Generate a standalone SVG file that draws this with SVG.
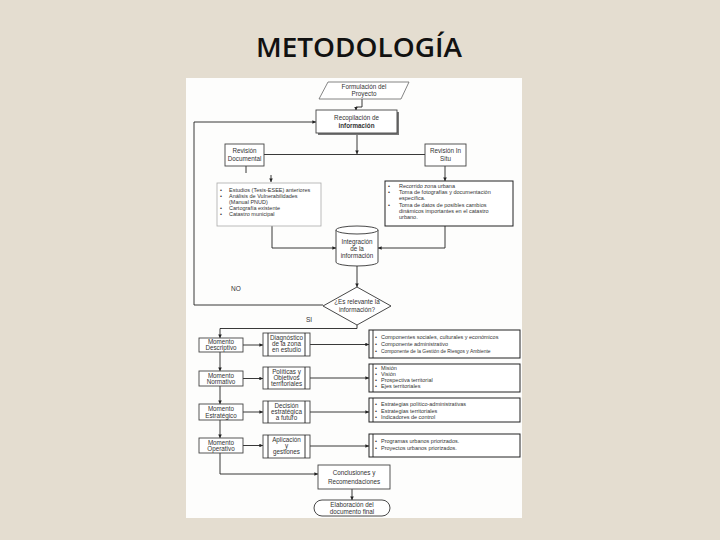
<svg xmlns="http://www.w3.org/2000/svg" width="720" height="540" viewBox="0 0 720 540">
<defs>
<marker id="ah" viewBox="0 0 6 6" refX="6" refY="3" markerWidth="4" markerHeight="4" orient="auto"><path d="M0,0 L6,3 L0,6 Z" fill="#222"/></marker>
<style>
.t{font-family:"Liberation Sans",Arial,sans-serif;fill:#333;}
.c{text-anchor:middle;font-size:6.3px;}
.l{font-size:5.5px;}
.box{fill:#fff;stroke:#444;stroke-width:0.9;}
.sh{fill:#777;}
.lg{fill:#fff;stroke:#aaa;stroke-width:0.8;}
.ln{fill:none;stroke:#222;stroke-width:0.9;}
.ar{fill:none;stroke:#222;stroke-width:0.9;marker-end:url(#ah);}
</style>
</defs>
<rect width="720" height="540" fill="#e4ddd0"/>
<text x="359" y="57" font-family="'Open Sans','Liberation Sans',sans-serif" font-weight="600" font-size="27" text-anchor="middle" textLength="206" lengthAdjust="spacingAndGlyphs" fill="#111">METODOLOGÍA</text>
<rect x="186" y="78" width="336" height="440" fill="#fdfdfc"/>

<g id="connectors">
<path class="ar" d="M362,99 V107 H356 V110.5"/>
<path class="ar" d="M357,133 V154"/>
<path class="ln" d="M264,154.5 H425"/>
<path class="ln" d="M246,166 V173" stroke="#999"/>
<path class="ar" d="M271,175 V182"/>
<path class="ar" d="M445,166 V181"/>
<path class="ar" d="M272,226 V248 H336"/>
<path class="ar" d="M445,226 V248 H378"/>
<path class="ar" d="M357,265 V287"/>
<path class="ar" d="M323,305 H194 V122 H316"/>
<path class="ar" d="M357,325 V328.5 H220 V338"/>
<path class="ar" d="M220,352 V371"/>
<path class="ar" d="M220,386 V404"/>
<path class="ar" d="M220,420 V438"/>
<path class="ar" d="M243,345 H263"/>
<path class="ar" d="M243,378.5 H263"/>
<path class="ar" d="M243,412 H263"/>
<path class="ar" d="M243,445.5 H263"/>
<path class="ar" d="M310,344.5 H369"/>
<path class="ar" d="M310,378 H369"/>
<path class="ar" d="M310,412 H369"/>
<path class="ar" d="M310,446 H369"/>
<path class="ar" d="M220,453 V474 H318"/>
<path class="ar" d="M352,489 V500"/>
</g>

<g id="formulacion">
<path d="M328,82 H409 L401,99 H319 Z" fill="#fff" stroke="#666" stroke-width="0.8"/>
<text class="t c" x="364" y="89">Formulación del</text>
<text class="t c" x="364" y="96">Proyecto</text>
</g>

<g id="recopilacion">
<rect x="318" y="112" width="81" height="23" class="sh"/>
<rect x="316" y="110" width="81" height="23" class="box"/>
<text class="t c" x="356.5" y="120">Recopilación de</text>
<text class="t c" x="356.5" y="128" font-weight="bold">información</text>
</g>

<g id="rev-documental">
<rect x="225" y="144" width="39" height="22" class="box"/>
<text class="t c" x="244.5" y="153">Revisión</text>
<text class="t c" x="244.5" y="161">Documental</text>
</g>

<g id="rev-insitu">
<rect x="425" y="144" width="41" height="22" class="box"/>
<text class="t c" x="445.5" y="153">Revisión In</text>
<text class="t c" x="445.5" y="161">Situ</text>
</g>

<g id="lista-documental">
<rect x="217" y="183" width="104" height="43" class="lg"/>
<g class="t l">
<text x="220" y="192">•</text><text x="229" y="192">Estudios (Tesis-ESEE) anteriores</text>
<text x="220" y="198">•</text><text x="229" y="198">Análisis de Vulnerabilidades</text>
<text x="229" y="204">(Manual PNUD)</text>
<text x="220" y="210">•</text><text x="229" y="210">Cartografía existente</text>
<text x="220" y="216">•</text><text x="229" y="216">Catastro municipal</text>
</g>
</g>

<g id="lista-insitu">
<rect x="385" y="181" width="128" height="45" fill="#fff" stroke="#222" stroke-width="1"/>
<g class="t l">
<text x="388" y="188">•</text><text x="399" y="188">Recorrido zona urbana</text>
<text x="388" y="194">•</text><text x="399" y="194">Toma de fotografías y documentación</text>
<text x="399" y="200">específica.</text>
<text x="388" y="207">•</text><text x="399" y="207">Toma de datos de posibles cambios</text>
<text x="399" y="213">dinámicos importantes en el catastro</text>
<text x="399" y="219">urbano.</text>
</g>
</g>

<g id="integracion">
<path d="M336,230 V262 A21,4 0 0 0 378,262 V230" fill="#fff" stroke="#333" stroke-width="0.9"/>
<ellipse cx="357" cy="230" rx="21" ry="4" fill="#fff" stroke="#333" stroke-width="0.9"/>
<text class="t c" x="357" y="244">Integración</text>
<text class="t c" x="357" y="251">de la</text>
<text class="t c" x="357" y="258">información</text>
</g>

<g id="decision">
<path d="M357,287 L391,306 L357,325 L323,306 Z" fill="#fff" stroke="#333" stroke-width="0.9"/>
<text class="t c" x="357" y="304" font-size="5.8">¿Es relevante la</text>
<text class="t c" x="357" y="312" font-size="5.8">información?</text>
</g>
<text class="t" x="231" y="291" font-size="6.5">NO</text>
<text class="t" x="306" y="322" font-size="6.5">SI</text>

<g id="m-descriptivo">
<rect x="199" y="338" width="44" height="14" class="box"/>
<text class="t c" x="221" y="344" font-size="5.8">Momento</text>
<text class="t c" x="221" y="350" font-size="5.8">Descriptivo</text>
</g>
<g id="m-normativo">
<rect x="199" y="371" width="44" height="15" class="box"/>
<text class="t c" x="221" y="377.5" font-size="5.8">Momento</text>
<text class="t c" x="221" y="384" font-size="5.8">Normativo</text>
</g>
<g id="m-estrategico">
<rect x="199" y="404" width="44" height="16" class="box"/>
<text class="t c" x="221" y="411" font-size="5.8">Momento</text>
<text class="t c" x="221" y="417.5" font-size="5.8">Estratégico</text>
</g>
<g id="m-operativo">
<rect x="199" y="438" width="44" height="15" class="box"/>
<text class="t c" x="221" y="444.5" font-size="5.8">Momento</text>
<text class="t c" x="221" y="451" font-size="5.8">Operativo</text>
</g>

<g id="diagnostico">
<rect x="263" y="333" width="47" height="23" class="box"/>
<path class="ln" d="M268,333 V356 M305,333 V356"/>
<text class="t c" x="286.5" y="340" font-size="5.6">Diagnóstico</text>
<text class="t c" x="286.5" y="346" font-size="5.6">de la zona</text>
<text class="t c" x="286.5" y="352" font-size="5.6">en estudio</text>
</g>
<g id="politicas">
<rect x="263" y="367" width="47" height="22" class="box"/>
<path class="ln" d="M268,367 V389 M305,367 V389"/>
<text class="t c" x="286.5" y="373.5" font-size="5.6">Políticas y</text>
<text class="t c" x="286.5" y="379.5" font-size="5.6">Objetivos</text>
<text class="t c" x="286.5" y="385.5" font-size="5.6">territoriales</text>
</g>
<g id="decision-estrategica">
<rect x="263" y="401" width="47" height="22" class="box"/>
<path class="ln" d="M268,401 V423 M305,401 V423"/>
<text class="t c" x="286.5" y="407.5" font-size="5.6">Decisión</text>
<text class="t c" x="286.5" y="413.5" font-size="5.6">estratégica</text>
<text class="t c" x="286.5" y="419.5" font-size="5.6">a futuro</text>
</g>
<g id="aplicacion">
<rect x="263" y="435" width="47" height="23" class="box"/>
<path class="ln" d="M268,435 V458 M305,435 V458"/>
<text class="t c" x="286.5" y="442" font-size="5.6">Aplicación</text>
<text class="t c" x="286.5" y="448" font-size="5.6">y</text>
<text class="t c" x="286.5" y="454" font-size="5.6">gestiones</text>
</g>

<g id="lista-descriptivo">
<rect x="369" y="330" width="151" height="28" fill="#fff" stroke="#222" stroke-width="1"/>
<path class="ln" d="M373,330 V358"/>
<g class="t l">
<text x="375" y="339">•</text><text x="381" y="339">Componentes sociales, culturales y económicos</text>
<text x="375" y="346">•</text><text x="381" y="346">Componente administrativo</text>
<text x="375" y="353">•</text><text x="381" y="353" font-size="4.9">Componente de la Gestión de Riesgos y Ambiente</text>
</g>
</g>
<g id="lista-normativo">
<rect x="369" y="364" width="151" height="28" fill="#fff" stroke="#222" stroke-width="1"/>
<path class="ln" d="M373,364 V392"/>
<g class="t l">
<text x="375" y="370">•</text><text x="381" y="370">Misión</text>
<text x="375" y="376">•</text><text x="381" y="376">Visión</text>
<text x="375" y="382">•</text><text x="381" y="382">Prospectiva territorial</text>
<text x="375" y="388">•</text><text x="381" y="388">Ejes territoriales</text>
</g>
</g>
<g id="lista-estrategico">
<rect x="369" y="398" width="151" height="24" fill="#fff" stroke="#222" stroke-width="1"/>
<path class="ln" d="M373,398 V422"/>
<g class="t l">
<text x="375" y="406">•</text><text x="381" y="406">Estrategias político-administrativas</text>
<text x="375" y="412.5">•</text><text x="381" y="412.5">Estrategias territoriales</text>
<text x="375" y="419">•</text><text x="381" y="419">Indicadores de control</text>
</g>
</g>
<g id="lista-operativo">
<rect x="369" y="434" width="151" height="23" fill="#fff" stroke="#222" stroke-width="1"/>
<path class="ln" d="M373,434 V457"/>
<g class="t l">
<text x="375" y="443">•</text><text x="381" y="443">Programas urbanos priorizados.</text>
<text x="375" y="449.5">•</text><text x="381" y="449.5">Proyectos urbanos priorizados.</text>
</g>
</g>

<g id="conclusiones">
<rect x="318" y="465" width="72" height="24" class="box"/>
<text class="t c" x="354" y="475" font-size="7">Conclusiones y</text>
<text class="t c" x="354" y="484" font-size="7">Recomendaciones</text>
</g>
<g id="elaboracion">
<rect x="314" y="500" width="76" height="16" rx="8" ry="8" fill="#fff" stroke="#333" stroke-width="0.9"/>
<text class="t c" x="352" y="507" font-size="6.5">Elaboración del</text>
<text class="t c" x="352" y="514" font-size="6.5">documento final</text>
</g>
</svg>
